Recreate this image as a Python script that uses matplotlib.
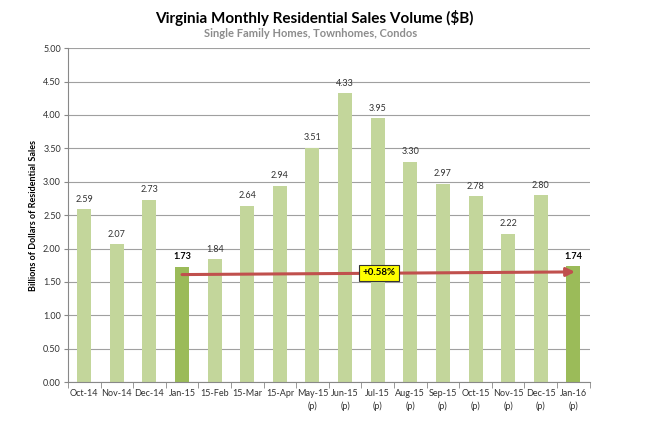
import numpy as np
import matplotlib.pyplot as plt

plt.rcParams['font.family'] = ['Lato', 'DejaVu Sans']

months = ['Oct-14', 'Nov-14', 'Dec-14', 'Jan-15', '15-Feb', '15-Mar', '15-Apr',
          'May-15\n(p)', 'Jun-15\n(p)', 'Jul-15\n(p)', 'Aug-15\n(p)', 'Sep-15\n(p)',
          'Oct-15\n(p)', 'Nov-15\n(p)', 'Dec-15\n(p)', 'Jan-16\n(p)']
sales = [2.59, 2.07, 2.73, 1.73, 1.84, 2.64, 2.94, 3.51, 4.33, 3.95, 3.30,
         2.97, 2.78, 2.22, 2.80, 1.74]
highlight = ['Jan-15', 'Jan-16\n(p)']
change_label = '+0.58%'

light = '#c3d69b'
dark = '#9bbb59'

fig = plt.figure(figsize=(6.53, 4.26), dpi=100)
ax = fig.add_axes([0.104, 0.103, 0.799, 0.784])

x = np.arange(len(months))
colors = [dark if m in highlight else light for m in months]
ax.bar(x, sales, width=0.43, color=colors, zorder=2)

for xi, v, m in zip(x, sales, months):
    if m in highlight:
        ax.text(xi, v + 0.08, f'{v:.2f}', ha='center', va='bottom',
                fontsize=6.5, fontweight='bold', color='black')
    else:
        ax.text(xi, v + 0.08, f'{v:.2f}', ha='center', va='bottom',
                fontsize=6.5, color='#333333')

# arrow from Jan-15 to Jan-16
i0, i1 = months.index(highlight[0]), months.index(highlight[1])
ax.annotate('', xy=(i1 + 0.05, sales[i1] - 0.09), xytext=(i0, sales[i0] - 0.12),
            arrowprops=dict(arrowstyle='-|>,head_length=0.5,head_width=0.25',
                            color='#c0504d', lw=2.2, shrinkA=0, shrinkB=0),
            zorder=4)
ax.text((i0 + i1) / 2 + 0.05, (sales[i0] + sales[i1]) / 2 - 0.1, change_label,
        ha='center', va='center', fontsize=7, fontweight='bold', zorder=5,
        bbox=dict(boxstyle='square,pad=0.35', fc='#ffff00', ec='#333333', lw=0.8))

ax.set_xlim(-0.5, len(months) - 0.5)
ax.set_ylim(0, 5)
ax.set_yticks(np.arange(0, 5.01, 0.5))
ax.set_yticklabels([f'{t:.2f}' for t in np.arange(0, 5.01, 0.5)])
ax.set_xticks(x)
ax.set_xticklabels(months, fontsize=6.5, color='#333333', linespacing=1.5)
ax.set_xticks(np.arange(-0.5, len(months), 1), minor=True)
ax.tick_params(axis='x', which='major', length=0, pad=5)
ax.tick_params(axis='x', which='minor', length=4, color='#888888')
ax.tick_params(axis='y', labelsize=6.5, labelcolor='#333333', length=3, pad=2,
               color='#888888')
ax.grid(axis='y', color='#a0a0a0', lw=0.8, zorder=0)
for s in ['top', 'right']:
    ax.spines[s].set_visible(False)
for s in ['left', 'bottom']:
    ax.spines[s].set_color('#888888')

ax.set_ylabel('Billions of Dollars of Residential Sales', fontsize=6.5,
              fontweight='bold', labelpad=4)

fig.text(0.482, 0.958, 'Virginia Monthly Residential Sales Volume ($B)',
         ha='center', va='center', fontsize=11, fontweight='bold')
fig.text(0.475, 0.922, 'Single Family Homes, Townhomes, Condos',
         ha='center', va='center', fontsize=8, fontweight='bold', color='#8c8c8c')

fig.savefig('out.png', dpi=100)
